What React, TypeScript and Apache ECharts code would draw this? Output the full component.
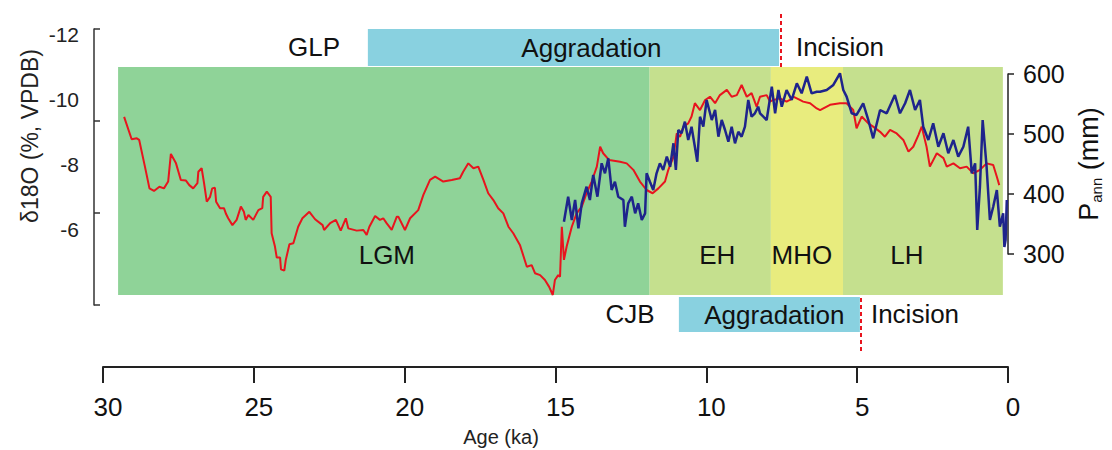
import React, { useEffect, useRef } from "react";
import * as echarts from "echarts";

const FONT = '"Liberation Sans", Arial, Helvetica, sans-serif';

// δ18O record (red) : [age ka, δ18O ‰ VPDB]
const redSeries: [number, number][] = [
  [29.30,-9.45],[29.05,-8.76],[28.88,-8.79],[28.80,-8.74],[28.61,-7.92],[28.46,-7.25],[28.31,-7.17],[28.13,-7.30],
  [27.98,-7.25],[27.84,-7.46],[27.75,-8.31],[27.58,-8.02],[27.42,-7.51],[27.25,-7.49],[27.14,-7.35],[27.01,-7.25],
  [26.87,-7.41],[26.84,-7.76],[26.73,-7.87],[26.65,-7.41],[26.56,-6.84],[26.45,-6.99],[26.38,-7.25],[26.29,-7.27],
  [26.25,-6.84],[26.12,-6.64],[25.99,-6.64],[25.92,-6.46],[25.85,-6.33],[25.71,-6.12],[25.57,-6.28],[25.43,-6.69],
  [25.33,-6.53],[25.27,-6.28],[25.18,-6.43],[25.02,-6.28],[24.85,-6.58],[24.72,-6.64],[24.69,-6.99],[24.57,-7.15],
  [24.44,-6.99],[24.41,-5.87],[24.30,-5.46],[24.24,-5.12],[24.13,-5.12],[24.10,-4.76],[23.99,-4.72],[23.94,-5.05],
  [23.82,-5.53],[23.69,-5.56],[23.53,-6.07],[23.39,-6.33],[23.16,-6.53],[22.97,-6.30],[22.72,-6.12],[22.67,-5.97],
  [22.47,-6.18],[22.28,-6.28],[22.12,-5.95],[21.95,-6.33],[21.87,-6.02],[21.59,-5.95],[21.37,-5.97],[21.26,-5.82],
  [21.17,-6.07],[20.98,-6.40],[20.82,-6.28],[20.71,-6.33],[20.60,-6.18],[20.43,-5.97],[20.26,-6.38],[20.21,-6.38],
  [19.99,-5.97],[19.82,-6.33],[19.55,-6.58],[19.38,-7.05],[19.16,-7.51],[18.99,-7.61],[18.72,-7.46],[18.44,-7.51],
  [18.17,-7.56],[18.06,-7.76],[17.89,-8.02],[17.72,-7.87],[17.56,-7.92],[17.39,-7.51],[17.23,-7.10],[17.06,-6.89],
  [16.90,-6.64],[16.73,-6.48],[16.56,-6.07],[16.40,-5.87],[16.18,-5.51],[15.95,-4.84],[15.79,-4.89],[15.68,-4.64],
  [15.51,-4.58],[15.35,-4.43],[15.21,-4.22],[15.09,-3.97],[15.02,-4.43],[14.91,-4.58],[14.85,-4.53],[14.79,-6.07],
  [14.72,-5.05],[14.63,-5.46],[14.46,-6.07],[14.30,-6.48],[14.13,-6.69],[13.97,-7.10],[13.80,-7.46],[13.63,-7.92],
  [13.52,-8.53],[13.42,-8.33],[13.22,-8.12],[12.86,-8.07],[12.64,-8.02],[12.42,-7.82],[12.20,-7.46],[11.98,-7.20],
  [11.78,-7.10],[11.59,-7.25],[11.37,-7.46],[11.26,-7.82],[11.09,-8.22],[10.98,-8.94],[10.87,-8.84],[10.76,-9.15],
  [10.60,-9.25],[10.49,-9.46],[10.38,-9.87],[10.21,-9.66],[10.04,-9.97],[9.88,-10.07],[9.71,-9.87],[9.55,-10.12],
  [9.32,-10.28],[9.16,-10.07],[8.99,-10.12],[8.83,-10.43],[8.66,-10.07],[8.50,-10.18],[8.33,-9.76],[8.22,-10.07],
  [8.00,-10.12],[7.89,-9.92],[7.78,-9.97],[7.56,-10.02],[7.34,-9.92],[7.23,-9.97],[7.12,-10.07],[6.90,-9.97],
  [6.79,-9.92],[6.56,-9.87],[6.34,-9.71],[6.23,-9.66],[5.90,-9.82],[5.57,-9.87],[5.35,-9.87],[5.13,-9.66],
  [5.02,-9.10],[4.85,-9.46],[4.63,-9.25],[4.47,-9.15],[4.24,-8.99],[4.08,-8.84],[3.91,-9.05],[3.69,-8.94],
  [3.47,-8.74],[3.30,-8.38],[3.14,-8.53],[2.97,-8.89],[2.86,-9.15],[2.70,-8.53],[2.59,-7.92],[2.36,-8.33],
  [2.14,-8.18],[2.03,-7.92],[1.81,-8.02],[1.59,-7.87],[1.37,-7.92],[1.15,-7.71],[0.93,-7.82],[0.71,-8.02],
  [0.49,-7.97],[0.37,-7.61],[0.29,-7.35],
];

// Annual precipitation (blue) : [age ka, P_ann mm]
const blueSeries: [number, number][] = [
  [14.72,353.8],[14.58,395.5],[14.46,356.7],[14.35,390.0],[14.24,342.8],[14.13,384.5],[13.97,412.2],[13.86,390.0],
  [13.75,431.7],[13.61,395.5],[13.47,451.2],[13.36,434.5],[13.25,459.5],[13.14,406.7],[13.03,420.5],[12.92,395.5],
  [12.75,390.0],[12.70,345.5],[12.59,384.5],[12.47,395.5],[12.36,367.8],[12.26,384.5],[12.14,356.7],[12.03,367.8],
  [11.98,434.5],[11.87,420.5],[11.76,406.7],[11.65,434.5],[11.54,451.2],[11.43,440.0],[11.31,462.2],[11.20,445.5],
  [11.09,484.5],[11.01,440.0],[10.93,506.7],[10.82,501.2],[10.71,520.5],[10.60,490.0],[10.49,512.2],[10.38,478.8],
  [10.30,453.8],[10.21,528.8],[10.10,512.2],[9.99,556.7],[9.82,523.3],[9.71,540.0],[9.60,495.5],[9.49,523.3],
  [9.38,506.7],[9.27,487.2],[9.16,512.2],[9.05,484.5],[8.94,503.8],[8.83,495.5],[8.72,512.2],[8.61,556.7],
  [8.50,528.8],[8.39,534.5],[8.28,545.5],[8.22,534.5],[8.00,523.3],[7.83,578.8],[7.72,534.5],[7.61,573.3],
  [7.50,545.5],[7.34,573.3],[7.17,556.7],[7.00,584.5],[6.84,567.8],[6.67,595.5],[6.51,567.8],[6.34,570.5],
  [6.23,570.5],[6.01,573.3],[5.79,581.7],[5.57,601.2],[5.46,573.3],[5.35,562.2],[5.18,534.5],[5.02,531.7],
  [4.80,551.2],[4.63,523.3],[4.47,492.8],[4.24,540.0],[4.02,534.5],[3.75,565.0],[3.58,534.5],[3.41,551.2],
  [3.25,573.3],[3.08,540.0],[2.92,556.7],[2.81,512.2],[2.64,490.0],[2.48,517.8],[2.31,478.8],[2.14,501.2],
  [1.98,467.8],[1.81,490.0],[1.65,462.2],[1.48,478.8],[1.32,512.2],[1.20,434.5],[1.09,451.2],[1.02,340.0],
  [0.93,412.2],[0.84,523.3],[0.71,445.5],[0.60,356.7],[0.49,378.8],[0.37,406.7],[0.27,345.5],[0.16,367.8],
  [0.12,311.7],[0.08,323.3],[0.04,390.0],
];

// Climate periods
const zoneNames = ["LGM", "EH", "MHO", "LH"];
const zoneStart = [29.5, 11.88, 7.86, 5.47];
const zoneEnd = [11.88, 7.86, 5.47, 0.17];

// Terrace phases
const glpAggradation = [21.22, 7.59];
const glpIncisionAge = 7.52;
const cjbAggradation = [10.91, 4.91];
const cjbIncisionAge = 4.87;

const ageTicks = { min: 0, max: 30, interval: 5 };
const d18OTicks = { min: -12, max: -4, interval: 2 };
const pannTicks = { min: 300, max: 600, interval: 100 };

const zoneColors = ["#8fd398", "#c5e08e", "#e8ec7e", "#c5e08e"];
const zoneLabelOffsets = [[3, 0], [7, 0], [-5, 0], [-16, 0]];
const BAR = "#89d1e0";
const RED = "#e8141e";
const NAVY = "#1e248c";
const INK = "#111";

export default function App() {
  const ref = useRef<HTMLDivElement>(null);
  useEffect(() => {
    if (!ref.current) return;
    const chart = echarts.init(ref.current, undefined, { renderer: "svg" });
    const L = 103, R = 104;
    const grids = [
      { left: L, right: R, top: 34, bottom: 156 }, // 0 red
      { left: 94, right: R, top: 29, bottom: 145 }, // 1 left tick bracket
      { left: L, right: R, top: 74, bottom: 196 }, // 2 blue
      { left: L, right: R, top: 67, bottom: 155 }, // 3 zones
      { left: L, right: R, top: 29, bottom: 384 }, // 4 top bar
      { left: L, right: R, top: 297, bottom: 118 }, // 5 bottom bar
      { left: L, right: R, top: 12, bottom: 383 }, // 6 top dash
      { left: L, right: R, top: 297, bottom: 99 }, // 7 bottom dash
      { left: L, right: R, top: 300, bottom: 83 }, // 8 age axis
    ];
    const hiddenX = (i: number) => ({
      gridIndex: i, type: "value", min: ageTicks.min, max: ageTicks.max, inverse: true, show: false,
    });
    const hiddenY = (i: number) => ({ gridIndex: i, type: "value", min: 0, max: 1, show: false });
    const xAxis: any[] = grids.map((_, i) => hiddenX(i));
    xAxis[8] = {
      gridIndex: 8, type: "value", min: ageTicks.min, max: ageTicks.max, interval: ageTicks.interval,
      inverse: true, position: "bottom",
      axisLine: { show: true, onZero: false, lineStyle: { color: "#222", width: 2 } },
      axisTick: { show: true, length: 16, lineStyle: { color: "#222", width: 2 } },
      axisLabel: { fontSize: 26, fontFamily: FONT, color: INK, margin: 27, padding: [0, 0, 0, 10] },
      splitLine: { show: false },
    };
    const yAxis: any[] = grids.map((_, i) => hiddenY(i));
    yAxis[0] = {
      gridIndex: 0, type: "value", position: "left", min: d18OTicks.min, max: d18OTicks.max,
      interval: d18OTicks.interval, inverse: true,
      axisLine: { show: false, onZero: false }, axisTick: { show: false }, splitLine: { show: false },
      axisLabel: { fontSize: 21, fontFamily: FONT, color: "#222", margin: 24, showMaxLabel: false },
    };
    yAxis[1] = {
      gridIndex: 1, type: "value", position: "left", min: 0, max: 3, interval: 1,
      axisLine: { show: true, onZero: false, lineStyle: { color: "#333", width: 1.5 } },
      axisTick: { show: true, inside: true, length: 6, lineStyle: { color: "#333", width: 1.5 } },
      axisLabel: { show: false }, splitLine: { show: false },
    };
    yAxis[2] = {
      gridIndex: 2, type: "value", position: "right", min: pannTicks.min, max: pannTicks.max,
      interval: pannTicks.interval,
      axisLine: { show: true, onZero: false, lineStyle: { color: "#222", width: 1.5 } },
      axisTick: { show: true, length: 6, lineStyle: { color: "#222", width: 1.5 } },
      axisLabel: { fontSize: 25, fontFamily: FONT, color: INK, margin: 15 },
      splitLine: { show: false },
    };

    const textStyle = { fontSize: 26, fontFamily: FONT, color: INK };

    const option: any = {
      animation: false,
      grid: grids,
      xAxis,
      yAxis,
      series: [
        {
          type: "line", xAxisIndex: 3, yAxisIndex: 3, data: [], z: 1, silent: true,
          markArea: {
            silent: true,
            data: zoneNames.map((n, i) => [
              {
                name: n, xAxis: zoneStart[i],
                itemStyle: { color: zoneColors[i], opacity: 1 },
                label: {
                  show: true, position: "insideBottom", distance: 27, offset: zoneLabelOffsets[i],
                  ...textStyle,
                },
              },
              { xAxis: zoneEnd[i] },
            ]),
          },
        },
        {
          type: "line", xAxisIndex: 4, yAxisIndex: 4, data: [], z: 1, silent: true,
          markArea: {
            silent: true,
            data: [[
              { name: "Aggradation", xAxis: glpAggradation[0], itemStyle: { color: BAR, opacity: 1 },
                label: { show: true, position: "inside", offset: [18, 0], ...textStyle } },
              { xAxis: glpAggradation[1] },
            ]],
          },
        },
        {
          type: "line", xAxisIndex: 5, yAxisIndex: 5, data: [], z: 1, silent: true,
          markArea: {
            silent: true,
            data: [[
              { name: "Aggradation", xAxis: cjbAggradation[0], itemStyle: { color: BAR, opacity: 1 },
                label: { show: true, position: "inside", offset: [5, 0], ...textStyle } },
              { xAxis: cjbAggradation[1] },
            ]],
          },
        },
        {
          type: "line", xAxisIndex: 6, yAxisIndex: 6, data: [], z: 3, silent: true,
          markLine: {
            silent: true, symbol: ["none", "none"], label: { show: false },
            lineStyle: { color: RED, type: [4, 3], width: 2 },
            data: [{ xAxis: glpIncisionAge }],
          },
        },
        {
          type: "line", xAxisIndex: 7, yAxisIndex: 7, data: [], z: 3, silent: true,
          markLine: {
            silent: true, symbol: ["none", "none"], label: { show: false },
            lineStyle: { color: RED, type: [4, 3], width: 2 },
            data: [{ xAxis: cjbIncisionAge }],
          },
        },
        {
          type: "line", name: "δ18O", xAxisIndex: 0, yAxisIndex: 0, data: redSeries,
          showSymbol: false, symbol: "none", clip: false, z: 4,
          lineStyle: { color: RED, width: 2 },
        },
        {
          type: "line", name: "Pann", xAxisIndex: 2, yAxisIndex: 2, data: blueSeries,
          showSymbol: false, symbol: "none", clip: false, z: 5,
          lineStyle: { color: NAVY, width: 2.5 },
        },
      ],
      graphic: [
        { type: "text", x: 314, y: 47, style: { text: "GLP", align: "center", verticalAlign: "middle", font: `26px ${FONT}`, fill: INK } },
        { type: "text", x: 840, y: 47, style: { text: "Incision", align: "center", verticalAlign: "middle", font: `26px ${FONT}`, fill: INK } },
        { type: "text", x: 630, y: 314, style: { text: "CJB", align: "center", verticalAlign: "middle", font: `26px ${FONT}`, fill: INK } },
        { type: "text", x: 915, y: 314, style: { text: "Incision", align: "center", verticalAlign: "middle", font: `26px ${FONT}`, fill: INK } },
        { type: "text", x: 501, y: 437, style: { text: "Age (ka)", align: "center", verticalAlign: "middle", font: `20px ${FONT}`, fill: "#222" } },
        {
          type: "text", x: 30, y: 136, rotation: Math.PI / 2,
          style: { text: "δ18O (%, VPDB)", align: "center", verticalAlign: "middle", font: `23px ${FONT}`, fill: "#222" },
        },
        {
          type: "text", x: 1089, y: 164, rotation: Math.PI / 2,
          style: {
            text: "{p|P}{s|ann}{p| (mm)}", align: "center", verticalAlign: "middle", fill: INK,
            rich: {
              p: { fontSize: 27, fontFamily: FONT, fill: INK, lineHeight: 30 },
              s: { fontSize: 15, fontFamily: FONT, fill: INK, verticalAlign: "bottom", lineHeight: 30 },
            },
          },
        },
      ],
    };
    chart.setOption(option);
    return () => chart.dispose();
  }, []);
  return (
    <div
      ref={ref}
      style={{ position: "absolute", left: 0, top: 0, width: 1112, height: 450, background: "#fff" }}
    />
  );
}
